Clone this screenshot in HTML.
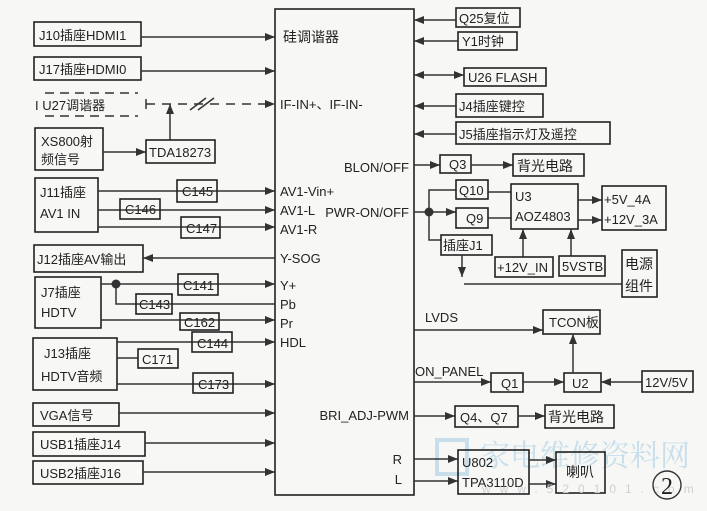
<!DOCTYPE html>
<html><head><meta charset="utf-8"><style>
html,body{margin:0;padding:0;background:#f7f7f5}
svg{display:block}
text{font-family:"Liberation Sans Narrow","Liberation Sans","Noto Sans CJK SC",sans-serif;font-size:13px;fill:#222}
.b{fill:none;stroke:#222;stroke-width:1.6}
.l{fill:none;stroke:#333;stroke-width:1.5}
</style></head><body>
<svg width="707" height="511" viewBox="0 0 707 511" xmlns="http://www.w3.org/2000/svg">
<defs><marker id="a" viewBox="0 0 10 8" refX="10" refY="4" markerWidth="10" markerHeight="8" markerUnits="userSpaceOnUse" orient="auto"><path d="M0,0L10,4L0,8z" fill="#333"/></marker>
<marker id="s" viewBox="0 0 10 8" refX="0" refY="4" markerWidth="10" markerHeight="8" markerUnits="userSpaceOnUse" orient="auto"><path d="M10,0L0,4L10,8z" fill="#333"/></marker></defs>
<!-- watermark -->
<text x="480" y="466" style="font-size:30px;fill:#c8dfeb;font-family:'Noto Serif CJK SC',serif">家电维修资料网</text>
<rect x="437" y="440" width="30" height="34" fill="none" stroke="#c8dfeb" stroke-width="4"/>
<!-- main box -->
<rect class="b" x="275" y="9" width="139" height="486"/>
<g>
<text x="283" y="42" style="font-size:14px">硅调谐器</text>
<text x="280" y="109">IF-IN+、IF-IN-</text>
<text x="409" y="172" text-anchor="end">BLON/OFF</text>
<text x="280" y="196">AV1-Vin+</text>
<text x="280" y="215">AV1-L</text>
<text x="409" y="217" text-anchor="end">PWR-ON/OFF</text>
<text x="280" y="234">AV1-R</text>
<text x="280" y="263">Y-SOG</text>
<text x="280" y="290">Y+</text>
<text x="280" y="309">Pb</text>
<text x="280" y="328">Pr</text>
<text x="280" y="347">HDL</text>
<text x="409" y="420" text-anchor="end">BRI_ADJ-PWM</text>
<text x="402" y="464" text-anchor="end">R</text>
<text x="402" y="484" text-anchor="end">L</text>
</g>
<!-- left boxes -->
<rect class="b" x="34" y="22" width="107" height="24"/><text x="39" y="40">J10插座HDMI1</text>
<line class="l" x1="141" y1="37" x2="275" y2="37" marker-end="url(#a)"/>
<rect class="b" x="34" y="57" width="107" height="23"/><text x="39" y="74">J17插座HDMI0</text>
<line class="l" x1="141" y1="71" x2="275" y2="71" marker-end="url(#a)"/>
<path d="M45,93H138M45,116H138" stroke="#333" stroke-width="1.5" stroke-dasharray="9,6" fill="none"/>
<text x="35" y="110">I  U27调谐器</text>
<line class="l" x1="146" y1="104" x2="275" y2="104" stroke-dasharray="9,7" marker-end="url(#a)"/>
<line class="l" x1="146" y1="99" x2="146" y2="109"/>
<path d="M190,110L206,98M198,110L214,98" stroke="#333" stroke-width="1.5"/>
<line class="l" x1="170" y1="140" x2="170" y2="104" marker-end="url(#a)"/>
<rect class="b" x="35" y="128" width="68" height="42"/><text x="41" y="146">XS800射</text><text x="41" y="164">频信号</text>
<line class="l" x1="103" y1="152" x2="146" y2="152" marker-end="url(#a)"/>
<rect class="b" x="146" y="140" width="69" height="23"/><text x="149" y="157">TDA18273</text>
<rect class="b" x="35" y="178" width="63" height="54"/><text x="40" y="197">J11插座</text><text x="40" y="218">AV1  IN</text>
<line class="l" x1="98" y1="191" x2="275" y2="191" marker-end="url(#a)"/>
<rect class="b" x="177" y="180" width="40" height="22" fill="#f7f7f5"/><text x="182" y="196">C145</text>
<line class="l" x1="98" y1="210" x2="275" y2="210" marker-end="url(#a)"/>
<rect class="b" x="120" y="199" width="40" height="20" fill="#f7f7f5"/><text x="125" y="214">C146</text>
<line class="l" x1="98" y1="227" x2="275" y2="227" marker-end="url(#a)"/>
<rect class="b" x="181" y="217" width="39" height="21" fill="#f7f7f5"/><text x="186" y="233">C147</text>
<rect class="b" x="34" y="245" width="109" height="27"/><text x="37" y="264">J12插座AV输出</text>
<line class="l" x1="275" y1="258" x2="143" y2="258" marker-end="url(#a)"/>
<rect class="b" x="35" y="277" width="66" height="51"/><text x="41" y="297">J7插座</text><text x="41" y="317">HDTV</text>
<line class="l" x1="101" y1="284" x2="275" y2="284" marker-end="url(#a)"/>
<circle cx="116" cy="284" r="4.5" fill="#333"/>
<path class="l" d="M116,284V304H275"/>
<rect class="b" x="178" y="274" width="40" height="21" fill="#f7f7f5"/><text x="183" y="290">C141</text>
<rect class="b" x="136" y="294" width="36" height="20" fill="#f7f7f5"/><text x="139" y="309">C143</text>
<line class="l" x1="101" y1="320" x2="275" y2="320" marker-end="url(#a)"/>
<rect class="b" x="180" y="313" width="39" height="17" fill="#f7f7f5"/><text x="184" y="327">C162</text>
<rect class="b" x="33" y="338" width="84" height="52"/><text x="44" y="358">J13插座</text><text x="41" y="381">HDTV音频</text>
<line class="l" x1="117" y1="342" x2="275" y2="342" marker-end="url(#a)"/>
<rect class="b" x="192" y="332" width="40" height="20" fill="#f7f7f5"/><text x="197" y="348">C144</text>
<line class="l" x1="117" y1="358" x2="138" y2="358"/>
<rect class="b" x="138" y="349" width="40" height="19"/><text x="142" y="364">C171</text>
<line class="l" x1="117" y1="384" x2="275" y2="384" marker-end="url(#a)"/>
<rect class="b" x="193" y="373" width="40" height="20" fill="#f7f7f5"/><text x="198" y="389">C173</text>
<rect class="b" x="33" y="403" width="86" height="23"/><text x="40" y="420">VGA信号</text>
<line class="l" x1="119" y1="413" x2="275" y2="413" marker-end="url(#a)"/>
<rect class="b" x="33" y="432" width="112" height="24"/><text x="40" y="449">USB1插座J14</text>
<line class="l" x1="145" y1="443" x2="275" y2="443" marker-end="url(#a)"/>
<rect class="b" x="33" y="461" width="110" height="23"/><text x="40" y="478">USB2插座J16</text>
<line class="l" x1="143" y1="472" x2="275" y2="472" marker-end="url(#a)"/>
<!-- right top -->
<rect class="b" x="456" y="8" width="64" height="19"/><text x="459" y="23">Q25复位</text>
<line class="l" x1="456" y1="20" x2="414" y2="20" marker-end="url(#a)"/>
<rect class="b" x="458" y="32" width="59" height="18"/><text x="462" y="46">Y1时钟</text>
<line class="l" x1="458" y1="41" x2="414" y2="41" marker-end="url(#a)"/>
<rect class="b" x="464" y="68" width="82" height="18"/><text x="468" y="82">U26 FLASH</text>
<line class="l" x1="414" y1="75" x2="464" y2="75" marker-start="url(#s)" marker-end="url(#a)"/>
<rect class="b" x="456" y="94" width="87" height="23"/><text x="459" y="111">J4插座键控</text>
<line class="l" x1="456" y1="106" x2="414" y2="106" marker-end="url(#a)"/>
<rect class="b" x="456" y="122" width="154" height="22"/><text x="459" y="139">J5插座指示灯及遥控</text>
<line class="l" x1="456" y1="134" x2="414" y2="134" marker-end="url(#a)"/>
<!-- BLON -->
<line class="l" x1="414" y1="165" x2="440" y2="165" marker-end="url(#a)"/>
<rect class="b" x="440" y="155" width="31" height="18"/><text x="449" y="169">Q3</text>
<line class="l" x1="471" y1="165" x2="513" y2="165" marker-end="url(#a)"/>
<rect class="b" x="513" y="154" width="71" height="22"/><text x="517" y="171" style="font-size:14px">背光电路</text>
<!-- PWR -->
<line class="l" x1="414" y1="212" x2="456" y2="212" marker-end="url(#a)"/>
<circle cx="429" cy="212" r="4.5" fill="#333"/>
<path class="l" d="M456,190H429V240H441"/>
<rect class="b" x="456" y="180" width="32" height="19"/><text x="459" y="195">Q10</text>
<rect class="b" x="456" y="208" width="32" height="20"/><text x="466" y="223">Q9</text>
<rect class="b" x="441" y="235" width="51" height="20"/><text x="443" y="250">插座J1</text>
<line class="l" x1="488" y1="192" x2="511" y2="192"/>
<line class="l" x1="488" y1="218" x2="511" y2="218"/>
<rect class="b" x="511" y="184" width="67" height="45"/><text x="515" y="201">U3</text><text x="515" y="221">AOZ4803</text>
<line class="l" x1="578" y1="200" x2="602" y2="200" marker-end="url(#a)"/>
<line class="l" x1="578" y1="220" x2="602" y2="220" marker-end="url(#a)"/>
<rect class="b" x="602" y="186" width="64" height="44"/><text x="604" y="204">+5V_4A</text><text x="604" y="224">+12V_3A</text>
<line class="l" x1="523" y1="257" x2="523" y2="229" marker-end="url(#a)"/>
<rect class="b" x="495" y="257" width="58" height="20"/><text x="497" y="272">+12V_IN</text>
<line class="l" x1="571" y1="256" x2="571" y2="229" marker-end="url(#a)"/>
<rect class="b" x="559" y="256" width="46" height="20"/><text x="562" y="271">5VSTB</text>
<line class="l" x1="462" y1="255" x2="462" y2="277" marker-end="url(#a)"/>
<line class="l" x1="464" y1="284" x2="622" y2="284"/>
<rect class="b" x="622" y="250" width="35" height="47"/><text x="625" y="269" style="font-size:14px">电源</text><text x="625" y="291" style="font-size:14px">组件</text>
<!-- LVDS -->
<text x="425" y="322">LVDS</text>
<line class="l" x1="414" y1="330" x2="543" y2="330" marker-end="url(#a)"/>
<rect class="b" x="543" y="310" width="57" height="24"/><text x="549" y="327">TCON板</text>
<text x="415" y="376">ON_PANEL</text>
<line class="l" x1="414" y1="382" x2="491" y2="382" marker-end="url(#a)"/>
<rect class="b" x="491" y="373" width="32" height="19"/><text x="501" y="388">Q1</text>
<line class="l" x1="523" y1="382" x2="564" y2="382" marker-end="url(#a)"/>
<rect class="b" x="564" y="373" width="37" height="19"/><text x="572" y="388">U2</text>
<line class="l" x1="573" y1="373" x2="573" y2="334" marker-end="url(#a)"/>
<line class="l" x1="642" y1="382" x2="601" y2="382" marker-end="url(#a)"/>
<rect class="b" x="642" y="371" width="51" height="21"/><text x="645" y="387">12V/5V</text>
<!-- BRI -->
<line class="l" x1="414" y1="416" x2="455" y2="416" marker-end="url(#a)"/>
<rect class="b" x="455" y="406" width="63" height="21"/><text x="460" y="422">Q4、Q7</text>
<line class="l" x1="518" y1="416" x2="545" y2="416" marker-end="url(#a)"/>
<rect class="b" x="545" y="405" width="69" height="23"/><text x="548" y="422" style="font-size:14px">背光电路</text>
<!-- audio -->
<line class="l" x1="414" y1="459" x2="458" y2="459" marker-end="url(#a)"/>
<line class="l" x1="414" y1="481" x2="458" y2="481" marker-end="url(#a)"/>
<rect class="b" x="458" y="450" width="71" height="44"/><text x="462" y="467">U802</text><text x="462" y="487">TPA3110D</text>
<line class="l" x1="529" y1="460" x2="556" y2="460" marker-end="url(#a)"/>
<line class="l" x1="529" y1="484" x2="556" y2="484" marker-end="url(#a)"/>
<rect class="b" x="556" y="452" width="49" height="41"/><text x="566" y="477" style="font-size:14px">喇叭</text>
<text x="482" y="493" style="font-size:12px;fill:#d0d0d0;letter-spacing:9px">www.520101.com</text>
<circle cx="667" cy="485" r="14" fill="none" stroke="#333" stroke-width="1.4"/>
<text x="667" y="494" text-anchor="middle" style="font-size:24px;font-family:'Liberation Serif',serif">2</text>
</svg>
</body></html>
